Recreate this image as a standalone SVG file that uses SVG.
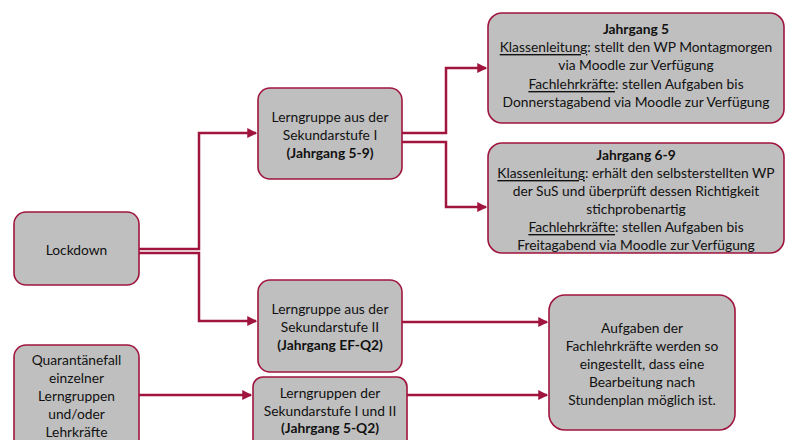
<svg xmlns="http://www.w3.org/2000/svg" width="785" height="440" viewBox="0 0 785 440">
<style>
.box{fill:#BFBFBF;stroke:#A0153E;stroke-width:1.6}
.t{font-family:Lato,"Open Sans","Liberation Sans",sans-serif;font-size:13.8px;fill:#111;text-anchor:middle;dominant-baseline:central}
.b{font-weight:bold}
.u{text-decoration:underline}
.c{fill:none;stroke:#A0153E;stroke-width:2.5}
</style>
<defs>
<marker id="ah" markerWidth="4" markerHeight="4" refX="3.5" refY="2" orient="auto" markerUnits="strokeWidth">
<path d="M0,0 L4,2 L0,4 z" fill="#A0153E"/>
</marker>
</defs>
<rect width="785" height="440" fill="#fff"/>
<g id="connectors">
<path class="c" d="M139,249 H199 V133 H256" marker-end="url(#ah)"/>
<path class="c" d="M139,253 H199 V321 H256" marker-end="url(#ah)"/>
<path class="c" d="M402,133 H446 V68 H486" marker-end="url(#ah)"/>
<path class="c" d="M402,142 H446 V207 H486" marker-end="url(#ah)"/>
<path class="c" d="M402,322 H547" marker-end="url(#ah)"/>
<path class="c" d="M139,395 H251" marker-end="url(#ah)"/>
<path class="c" d="M407,395 H547" marker-end="url(#ah)"/>
</g>
<g id="lockdown">
<rect class="box" x="14" y="212" width="125" height="73" rx="12"/>
<text class="t" x="76.5" y="249">Lockdown</text>
</g>
<g id="quarantaene">
<rect class="box" x="14" y="345" width="125" height="110" rx="12"/>
<text class="t" x="76.5" y="359">Quarantänefall</text>
<text class="t" x="76.5" y="377">einzelner</text>
<text class="t" x="76.5" y="395">Lerngruppen</text>
<text class="t" x="76.5" y="413">und/oder</text>
<text class="t" x="76.5" y="431">Lehrkräfte</text>
</g>
<g id="sek1">
<rect class="box" x="258" y="88" width="144" height="91" rx="12"/>
<text class="t" x="330" y="116">Lerngruppe aus der</text>
<text class="t" x="330" y="134">Sekundarstufe I</text>
<text class="t b" x="330" y="152">(Jahrgang 5-9)</text>
</g>
<g id="jg5">
<rect class="box" x="488" y="13" width="296" height="110" rx="14"/>
<text class="t b" x="636" y="28">Jahrgang 5</text>
<text class="t" x="636" y="46"><tspan class="u">Klassenleitung</tspan>: stellt den WP Montagmorgen</text>
<text class="t" x="636" y="64">via Moodle zur Verfügung</text>
<text class="t" x="636" y="83"><tspan class="u">Fachlehrkräfte</tspan>: stellen Aufgaben bis</text>
<text class="t" x="636" y="101">Donnerstagabend via Moodle zur Verfügung</text>
</g>
<g id="jg69">
<rect class="box" x="488" y="143" width="296" height="110" rx="14"/>
<text class="t b" x="636" y="154">Jahrgang 6-9</text>
<text class="t" x="636" y="172"><tspan class="u">Klassenleitung</tspan>: erhält den selbsterstellten WP</text>
<text class="t" x="636" y="190">der SuS und überprüft dessen Richtigkeit</text>
<text class="t" x="636" y="208">stichprobenartig</text>
<text class="t" x="636" y="226"><tspan class="u">Fachlehrkräfte</tspan>: stellen Aufgaben bis</text>
<text class="t" x="636" y="244">Freitagabend via Moodle zur Verfügung</text>
</g>
<g id="sek2">
<rect class="box" x="258" y="280" width="144" height="92" rx="12"/>
<text class="t" x="330" y="308">Lerngruppe aus der</text>
<text class="t" x="330" y="326">Sekundarstufe II</text>
<text class="t b" x="330" y="344">(Jahrgang EF-Q2)</text>
</g>
<g id="sek12">
<rect class="box" x="253" y="377" width="154" height="80" rx="10"/>
<text class="t" x="330" y="392">Lerngruppen der</text>
<text class="t" x="330" y="410">Sekundarstufe I und II</text>
<text class="t b" x="330" y="427">(Jahrgang 5-Q2)</text>
</g>
<g id="aufgaben">
<rect class="box" x="549" y="295" width="186" height="135" rx="16"/>
<text class="t" x="642" y="327">Aufgaben der</text>
<text class="t" x="642" y="345">Fachlehrkräfte werden so</text>
<text class="t" x="642" y="363">eingestellt, dass eine</text>
<text class="t" x="642" y="381">Bearbeitung nach</text>
<text class="t" x="642" y="399">Stundenplan möglich ist.</text>
</g>
</svg>
